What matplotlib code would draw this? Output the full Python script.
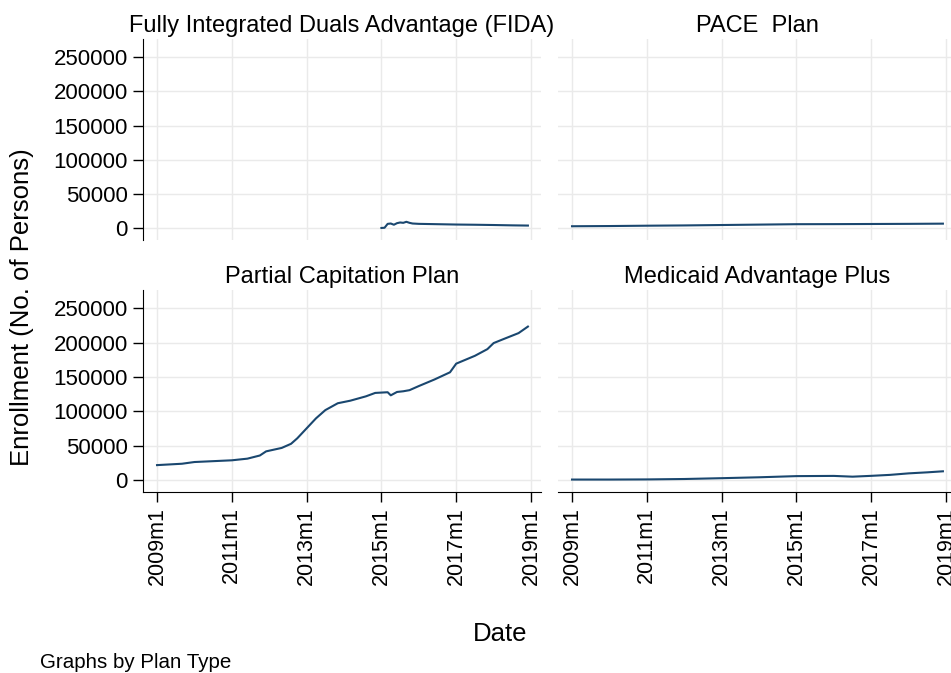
import matplotlib
matplotlib.use('Agg')
import matplotlib.pyplot as plt

plt.rcParams['font.family'] = ['Liberation Sans', 'DejaVu Sans']

# months counted from 2009m1 (= 0)
TICK_MONTHS = [0, 24, 48, 72, 96, 120]
TICK_LABELS = ['2009m1', '2011m1', '2013m1', '2015m1', '2017m1', '2019m1']
Y_TICKS = [0, 50000, 100000, 150000, 200000, 250000]

PANEL_TITLES = ['Fully Integrated Duals Advantage (FIDA)', 'PACE  Plan',
                'Partial Capitation Plan', 'Medicaid Advantage Plus']

fida_months = [72, 73, 74, 75, 76, 77, 78, 79, 80, 81, 82, 84, 90, 96, 102, 108, 114, 119]
fida_vals = [500, 800, 6500, 7000, 5200, 7500, 8500, 8000, 9500, 8000, 7000, 6500,
             6000, 5500, 5200, 4800, 4300, 4000]

pace_months = [0, 12, 24, 36, 48, 60, 72, 84, 96, 108, 119]
pace_vals = [3000, 3300, 3800, 4200, 4800, 5400, 6000, 6100, 6300, 6500, 6800]

pcap_months = [0, 8, 12, 24, 29, 33, 35, 40, 43, 45, 48, 51, 54, 58, 62, 67, 70,
               74, 75, 77, 79, 81, 84, 89, 94, 96, 102, 106, 108, 111, 116, 119]
pcap_vals = [22000, 24000, 26500, 29000, 31400, 36000, 42000, 47000, 53000, 61000,
             75500, 90000, 102000, 112000, 115700, 122000, 127000, 128000, 123500,
             128400, 129400, 131000, 137000, 146500, 157000, 169600, 181000, 190700,
             199500, 205000, 214000, 223500]

map_months = [0, 12, 24, 36, 48, 60, 72, 84, 90, 96, 102, 108, 114, 119]
map_vals = [1000, 1000, 1200, 1800, 3000, 4300, 6000, 6300, 5200, 6400, 7800, 10000,
            11500, 13000]

SERIES = [(fida_months, fida_vals), (pace_months, pace_vals),
          (pcap_months, pcap_vals), (map_months, map_vals)]

W, H = 951, 673
fig = plt.figure(figsize=(W / 100, H / 100), dpi=100)

# panel rectangles in pixels: left, top, width, height
rects = [(143, 39, 398, 201), (558, 39, 398, 201),
         (143, 290, 398, 202), (558, 290, 398, 202)]

line_col = '#1a476f'
grid_col = '#eaeaea'

for i, (rect, (mx, vals)) in enumerate(zip(rects, SERIES)):
    l, t, w, h = rect
    ax = fig.add_axes([l / W, 1 - (t + h) / H, w / W, h / H])
    ax.plot(mx, vals, color=line_col, lw=1.5)
    ax.set_xlim(-4.5, 123.2)
    ax.set_ylim(-17100, 276700)
    ax.set_xticks(TICK_MONTHS)
    ax.set_yticks(Y_TICKS)
    ax.grid(True, color=grid_col, lw=1.0)
    ax.set_axisbelow(True)
    ax.set_title(PANEL_TITLES[i], fontsize=17, pad=5)
    for s in ['top', 'right']:
        ax.spines[s].set_visible(False)
    left_col = i in (0, 2)
    bottom_row = i in (2, 3)
    ax.spines['left'].set_visible(left_col)
    ax.spines['bottom'].set_visible(bottom_row)
    ax.tick_params(axis='y', left=left_col, labelleft=left_col, length=7,
                   width=1, labelsize=16, pad=4)
    if left_col:
        ax.set_yticklabels([str(v) for v in Y_TICKS])
    ax.tick_params(axis='x', bottom=bottom_row, labelbottom=bottom_row, length=7,
                   width=1, labelsize=15.5, pad=4)
    if bottom_row:
        ax.set_xticklabels(TICK_LABELS, rotation=90)

fig.text(22 / W, 1 - 307 / H, 'Enrollment (No. of Persons)', rotation=90,
         ha='center', va='center', fontsize=18.5)
fig.text(500 / W, 1 - 634 / H, 'Date', ha='center', va='center', fontsize=18.5)
fig.text(40 / W, 1 - 662 / H, 'Graphs by Plan Type', ha='left', va='center',
         fontsize=14.8)

fig.savefig('out.png', dpi=100)
